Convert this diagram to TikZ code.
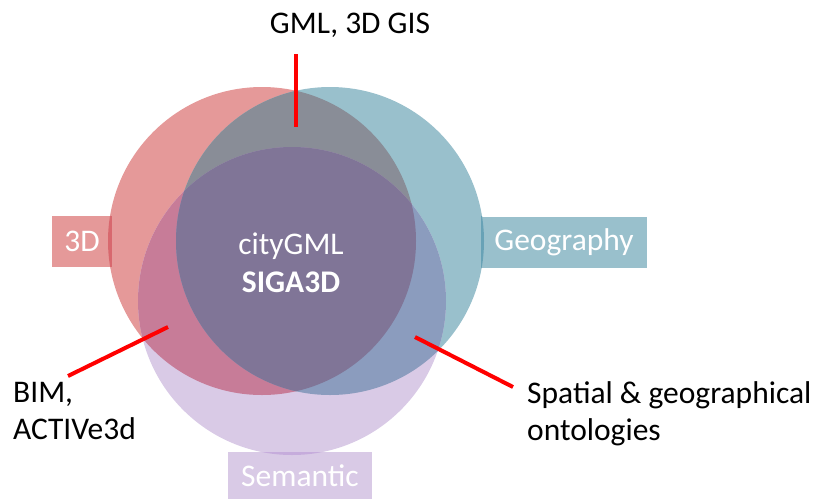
\documentclass[tikz,border=0pt]{standalone}
\usepackage{fontspec}
\setmainfont{Carlito}
\definecolor{solo3d}{RGB}{229,153,153}
\definecolor{sologeo}{RGB}{153,192,204}
\definecolor{solosem}{RGB}{217,202,230}
\definecolor{mixrg}{RGB}{137,141,151}
\definecolor{mixrs}{RGB}{199,124,152}
\definecolor{mixgs}{RGB}{139,156,190}
\definecolor{mixall}{RGB}{128,117,151}
\definecolor{edge3d}{RGB}{216,104,110}
\definecolor{edgegeo}{RGB}{104,162,182}
\definecolor{edgesem}{RGB}{198,172,220}
\usetikzlibrary{positioning}
\tikzset{
  tag/.style={text=white, inner sep=0pt, minimum height=51pt,
              font=\fontsize{31.5}{37}\selectfont},
  note/.style={inner sep=0pt, align=left, anchor=base west,
              font=\fontsize{31.5}{37.5}\selectfont},
  inner/.style={text=white, inner sep=0pt, anchor=base,
              font=\fontsize{31.5}{37}\selectfont},
  pointer/.style={red, line width=4pt},
}
\begin{document}
\begin{tikzpicture}[x=1pt,y=-1pt]
  \useasboundingbox (0,0) rectangle (814,499);
  % the three sets
  \fill[solo3d] (262,241) circle (154);
  \fill[sologeo] (330,241) circle (154);
  \fill[solosem] (292,301) circle (154);
  \begin{scope}
    \clip (262,241) circle (154);
    \fill[mixrg] (330,241) circle (154);
    \fill[mixrs] (292,301) circle (154);
  \end{scope}
  \begin{scope}
    \clip (330,241) circle (154);
    \fill[mixgs] (292,301) circle (154);
  \end{scope}
  \begin{scope}
    \clip (262,241) circle (154);
    \clip (330,241) circle (154);
    \fill[mixall] (292,301) circle (154);
  \end{scope}
  % set names
  \node[tag,fill=solo3d,minimum width=60pt] (three) at (82,241.5) {3D};
  \node[tag,fill=sologeo,minimum width=166pt] (geo) at (564,242) {Geography};
  \node[tag,fill=solosem,minimum width=144pt,minimum height=47pt] (sem) at (300,475.5) {Semantic};
  \begin{scope}
    \clip (262,241) circle (154);
    \fill[edge3d] (three.south west) rectangle (three.north east);
  \end{scope}
  \begin{scope}
    \clip (330,241) circle (154);
    \fill[edgegeo] (geo.south west) rectangle (geo.north east);
  \end{scope}
  \begin{scope}
    \clip (292,301) circle (154);
    \fill[edgesem] (sem.south west) rectangle (sem.north east);
  \end{scope}
  % centre
  \node[inner] (city) at (291,254) {cityGML};
  \node[inner,font=\fontsize{31.5}{37}\selectfont\bfseries] (siga) at (291,292) {SIGA3D};
  % examples
  \node[inner,text=black] (gml) at (350,33) {GML, 3D GIS};
  \node[note] (bim) at (13,439.5) {BIM,\\ACTIVe3d};
  \node[note] (spatial) at (527,440.5) {Spatial \& geographical\\ontologies};
  \coordinate (gmltop) at (296,54);
  \coordinate (gmlend) at (296,127);
  \coordinate (bimtop) at (68,376);
  \coordinate (bimend) at (168,327);
  \coordinate (spatop) at (513,387);
  \coordinate (spaend) at (415,337);
  \draw[pointer] (gmltop) -- (gmlend);
  \draw[pointer] (bimtop) -- (bimend);
  \draw[pointer] (spatop) -- (spaend);
\end{tikzpicture}
\end{document}
